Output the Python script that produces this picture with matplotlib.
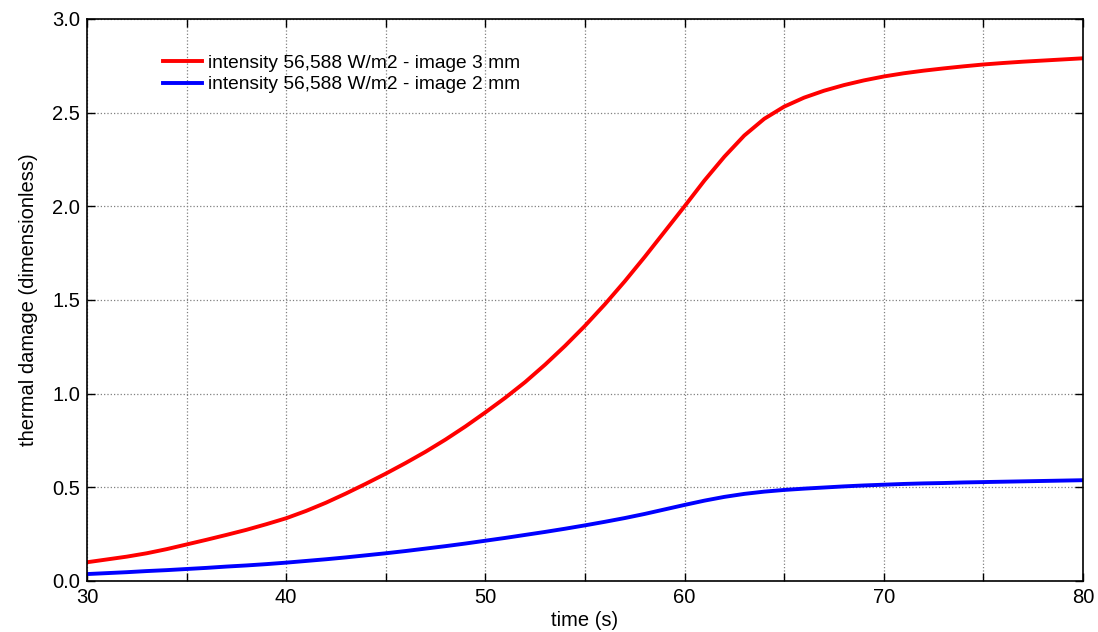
import numpy as np
import matplotlib
matplotlib.use("Agg")
import matplotlib.pyplot as plt
from matplotlib.ticker import MultipleLocator, FormatStrFormatter

plt.rcParams['font.family'] = ['Liberation Sans', 'DejaVu Sans']

# time axis (s)
time_s = list(range(30, 81))

# thermal damage, image 3 mm (red)
damage_3mm = [0.100, 0.115, 0.130, 0.148, 0.170, 0.195, 0.220, 0.246, 0.273, 0.303,
              0.335, 0.374, 0.418, 0.467, 0.519, 0.573, 0.630, 0.690, 0.755, 0.825,
              0.900, 0.978, 1.062, 1.155, 1.255, 1.362, 1.477, 1.600, 1.730, 1.865,
              2.000, 2.138, 2.265, 2.378, 2.467, 2.532, 2.580, 2.617, 2.647, 2.672,
              2.693, 2.710, 2.724, 2.736, 2.747, 2.757, 2.765, 2.772, 2.778, 2.784,
              2.790]

# thermal damage, image 2 mm (blue)
damage_2mm = [0.037, 0.042, 0.047, 0.053, 0.058, 0.064, 0.070, 0.077, 0.083, 0.090,
              0.098, 0.107, 0.116, 0.126, 0.137, 0.148, 0.160, 0.173, 0.186, 0.200,
              0.215, 0.230, 0.246, 0.262, 0.279, 0.297, 0.316, 0.336, 0.358, 0.382,
              0.406, 0.429, 0.449, 0.465, 0.477, 0.486, 0.493, 0.499, 0.505, 0.510,
              0.514, 0.518, 0.521, 0.523, 0.526, 0.528, 0.530, 0.532, 0.534, 0.536,
              0.538]

labels = ["intensity 56,588 W/m2 - image 3 mm",
          "intensity 56,588 W/m2 - image 2 mm"]

fig = plt.figure(figsize=(10.98, 6.32), dpi=100)
ax = fig.add_axes([0.0792, 0.0807, 0.9071, 0.8893])

ax.plot(time_s, damage_3mm, color='#ff0000', lw=2.8, label=labels[0])
ax.plot(time_s, damage_2mm, color='#0000ff', lw=2.8, label=labels[1])

ax.set_xlim(30, 80)
ax.set_ylim(0, 3)
ax.xaxis.set_major_locator(MultipleLocator(10))
ax.xaxis.set_minor_locator(MultipleLocator(5))
ax.yaxis.set_major_locator(MultipleLocator(0.5))
ax.yaxis.set_major_formatter(FormatStrFormatter('%.1f'))

ax.grid(True, which='both', color='#808080', ls=':', lw=0.9)
ax.tick_params(which='both', direction='in', top=True, right=True,
               length=6, width=1, labelsize=14.5, pad=5)
for s in ax.spines.values():
    s.set_linewidth(1.2)

ax.set_xlabel("time (s)", fontsize=14.5, labelpad=3)
ax.set_ylabel("thermal damage (dimensionless)", fontsize=14.5, labelpad=10)

ax.legend(loc='upper left', bbox_to_anchor=(0.076, 0.937), frameon=False,
          fontsize=13.8, handlelength=2.05, handletextpad=0.3, labelspacing=0.22,
          borderaxespad=0, borderpad=0)

fig.savefig("out.png", dpi=100)
